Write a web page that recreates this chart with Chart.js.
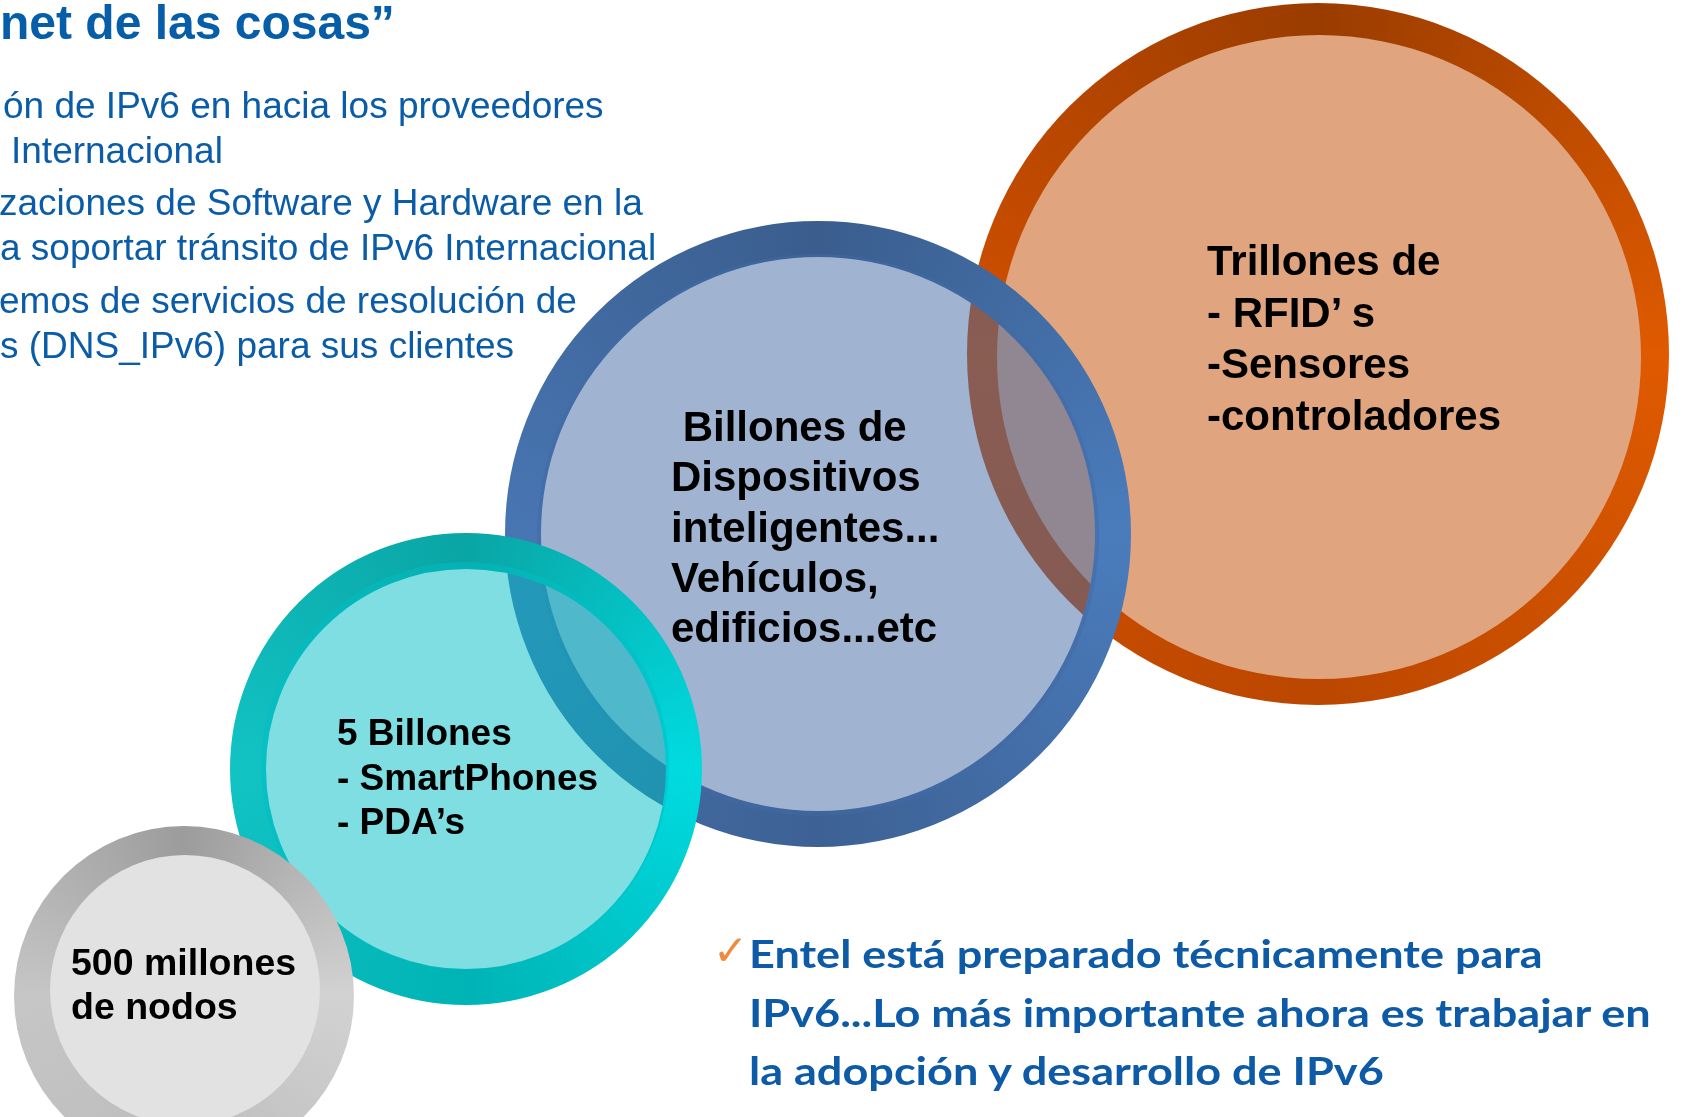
<!DOCTYPE html>
<html>
<head>
<meta charset="utf-8">
<script src="https://cdn.jsdelivr.net/npm/chart.js@4.4.1/dist/chart.umd.min.js"></script>
<style>
	html, body { margin: 0; padding: 0; background: #fff; }
	#wrap { position: relative; width: 1687px; height: 1117px; overflow: hidden; }
	#c { position: absolute; left: 0; top: 0; }
	.t { position: absolute; white-space: pre; }
	.slide { font-family: "Liberation Sans", Arial, sans-serif; color: #0b5ca8; font-size: 37px; line-height: 37px; }
	.title { font-family: "Liberation Sans", Arial, sans-serif; color: #065ea9; font-size: 48px; line-height: 48px; font-weight: bold; }
	.lbl { font-family: "Liberation Sans", Arial, sans-serif; color: #000; font-weight: bold; }
	.note { font-family: Lato, "Open Sans", sans-serif; color: #0d5aa7; font-weight: bold; font-size: 39px; line-height: 58.5px; transform: scaleX(1.155); transform-origin: 0 0; }
	.check { font-family: "DejaVu Sans", sans-serif; color: #f08a3c; font-size: 42px; font-weight: bold; }
</style>
</head>
<body>
<div id="wrap">
	<canvas id="c" width="1687" height="1117"></canvas>

	<div class="t title" style="left:0; top:-1px;">net de las cosas”</div>
	<div class="t slide" style="left:3px; top:87px;">ón de IPv6 en hacia los proveedores</div>
	<div class="t slide" style="left:11px; top:132px;">Internacional</div>
	<div class="t slide" style="left:-1px; top:184px;">zaciones de Software y Hardware en la</div>
	<div class="t slide" style="left:0; top:229px;">a soportar tránsito de IPv6 Internacional</div>
	<div class="t slide" style="left:-1px; top:282px;">emos de servicios de resolución de</div>
	<div class="t slide" style="left:0; top:327px;">s (DNS_IPv6) para sus clientes</div>

	<div class="t lbl" style="left:1207px; top:235px; font-size:42px; line-height:51.5px;">Trillones de
- RFID’ s
-Sensores
-controladores</div>
	<div class="t lbl" style="left:671px; top:402px; font-size:42px; line-height:50.3px;"> Billones de
Dispositivos
inteligentes...
Vehículos,
edificios...etc</div>
	<div class="t lbl" style="left:337px; top:711px; font-size:37px; line-height:44.5px;">5 Billones
- SmartPhones
- PDA’s</div>
	<div class="t lbl" style="left:71px; top:940px; font-size:37.5px; line-height:44px;">500 millones
de nodos</div>

	<div class="t check" style="left:713px; top:926px;">✓</div>
	<div class="t note" style="left:749px; top:924px;">Entel está preparado técnicamente para
IPv6...Lo más importante ahora es trabajar en
la adopción y desarrollo de IPv6</div>
</div>

<script>
// cuatro etapas: gris, turquesa, azul, naranja
const etapas = ['500 millones de nodos', '5 Billones', 'Billones de Dispositivos', 'Trillones de'];

// anillo exterior (centro y radio)
const anilloX = [184, 466, 818, 1318];
const anilloY = [996, 769, 534, 354];
const anilloR = [170, 236, 313, 351];

// disco interior (centro y radio)
const discoX = [185, 465, 818, 1319];
const discoY = [990, 766, 535, 357];
const discoR = [135, 204, 281, 322];

// colores del anillo: derecha, abajo, izquierda, arriba
const coloresAnillo = [
	['#d2d2d2', '#bcbcbc', '#c6c6c6', '#9c9c9c'],
	['#00dbe0', '#00b3b5', '#12c3c4', '#0aa5a5'],
	['#4a7cbc', '#3d6194', '#4876b3', '#3a5d8d'],
	['#df5a00', '#bb4700', '#d25000', '#9a3c00']
];
const coloresDisco = ['#e2e2e2', 'rgba(0, 190, 195, 0.5)', 'rgba(65, 105, 165, 0.5)', '#e0a47f'];
// el gris y el naranja son opacos; turquesa y azul dejan ver lo de abajo
const anilloRelleno = [true, false, false, true];

function gradienteAnillo(context, i) {
	const chart = context.chart;
	if (!chart.chartArea) return coloresAnillo[i][0];
	const x = chart.scales.x.getPixelForValue(anilloX[i]);
	const y = chart.scales.y.getPixelForValue(anilloY[i]);
	const g = chart.ctx.createConicGradient(0, x, y);
	const c = coloresAnillo[i];
	g.addColorStop(0, c[0]);
	g.addColorStop(0.25, c[1]);
	g.addColorStop(0.5, c[2]);
	g.addColorStop(0.75, c[3]);
	g.addColorStop(1, c[0]);
	return g;
}

const datasets = [];
etapas.forEach((nombre, i) => {
	const relleno = anilloRelleno[i];
	const ancho = relleno ? 0 : (anilloR[i] - discoR[i] + 4);
	datasets.push({
		label: nombre + ' (anillo)',
		data: [{ x: anilloX[i], y: anilloY[i], r: relleno ? anilloR[i] : anilloR[i] - ancho / 2 }],
		backgroundColor: relleno ? (ctx) => gradienteAnillo(ctx, i) : 'rgba(0,0,0,0)',
		borderColor: (ctx) => gradienteAnillo(ctx, i),
		borderWidth: ancho,
		order: i * 2 + 2,
		clip: false
	});
	datasets.push({
		label: nombre,
		data: [{ x: discoX[i], y: discoY[i], r: discoR[i] }],
		backgroundColor: coloresDisco[i],
		borderWidth: 0,
		order: i * 2 + 1,
		clip: false
	});
});

new Chart(document.getElementById('c'), {
	type: 'bubble',
	data: { datasets: datasets },
	options: {
		responsive: false,
		animation: false,
		events: [],
		layout: { padding: 0, autoPadding: false },
		plugins: {
			legend: { display: false },
			tooltip: { enabled: false },
			title: { display: false }
		},
		scales: {
			x: { type: 'linear', min: 0, max: 1687, display: false },
			y: { type: 'linear', min: 0, max: 1117, reverse: true, display: false }
		}
	}
});
</script>
</body>
</html>
